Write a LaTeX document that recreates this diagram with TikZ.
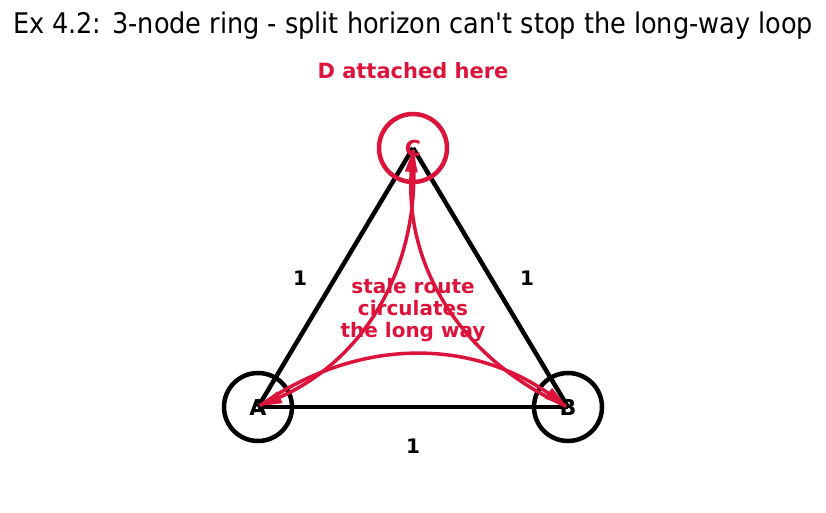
\documentclass[tikz,border=0pt]{standalone}
\usepackage{fontspec}
\setmainfont{DejaVu Sans}
\newfontfamily\titlefont{DejaVu Sans Condensed}
\usetikzlibrary{arrows.meta, backgrounds}
\definecolor{crimson}{RGB}{220,20,60}

\begin{document}
\begin{tikzpicture}[x=1pt, y=1pt,
    router/.style={circle, draw=black, line width=4.5pt, minimum size=68pt, inner sep=0pt,
        font=\fontsize{22}{22}\selectfont\bfseries},
    link/.style={line width=4.5pt},
    cost/.style={font=\fontsize{20}{20}\selectfont\bfseries},
    loopway/.style={crimson, line width=3.5pt, -{Triangle[length=22pt, width=12pt]},
        shorten <=2pt, shorten >=2pt, bend left=35}]
    \useasboundingbox (0,0) rectangle (826,512);

    % Title
    \node[font=\titlefont\fontsize{28.4}{28.4}\selectfont] (title) at (413,486)
        {Ex 4.2: 3-node ring - split horizon can't stop the long-way loop};

    % Routers
    \node[router] (A) at (258,105) {A};
    \node[router] (B) at (568,105) {B};
    \node[router, draw=crimson, text=crimson] (C) at (413,364) {C};
    \node[font=\fontsize{21}{21}\selectfont\bfseries, text=crimson] (D) at (413,441) {D attached here};

    % Ring links
    \begin{scope}[on background layer]
        \draw[link] (A.center) -- (B.center);
        \draw[link] (B.center) -- (C.center);
        \draw[link] (C.center) -- (A.center);
    \end{scope}
    \node[cost] (ac) at (300,234) {1};
    \node[cost] (bc) at (527,234) {1};
    \node[cost] (ab) at (413,66) {1};

    % Stale route going round
    \draw[loopway] (A.center) to (B.center);
    \draw[loopway] (B.center) to (C.center);
    \draw[loopway] (C.center) to (A.center);
    \node[font=\fontsize{20}{22}\selectfont\bfseries, text=crimson, align=center] (stale) at (413,202)
        {stale route\\circulates\\the long way};
\end{tikzpicture}
\end{document}
